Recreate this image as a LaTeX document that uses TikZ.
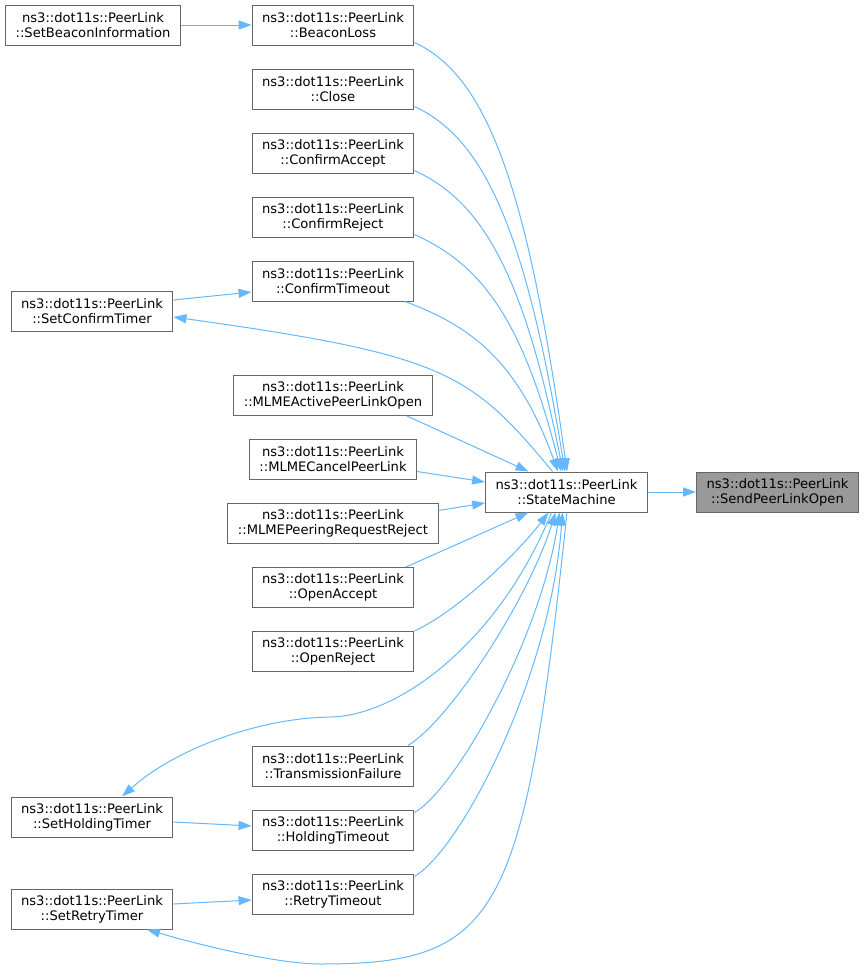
\documentclass[tikz,border=0pt]{standalone}
\usepackage{fontspec}
\setmainfont{DejaVu Sans}
\usetikzlibrary{arrows.meta,positioning}
\definecolor{callblue}{HTML}{63B8FF}
\definecolor{boxgray}{HTML}{666666}
\definecolor{curgray}{HTML}{999999}
\tikzset{
  fn/.style={draw=boxgray,fill=white,line width=1pt,align=center,
    minimum height=40pt,inner xsep=10pt,inner ysep=2pt,
    font=\fontsize{13.1}{15}\selectfont},
  cur/.style={fn,fill=curgray},
  call/.style={draw=callblue,line width=1pt}
}

\begin{document}
\begin{tikzpicture}[->,>={Triangle[length=13pt,width=9pt]},x=1pt,y=1pt,node distance=64pt]
  \useasboundingbox (0,0) rectangle (864,-969);

  \node[fn](sm) at (566.5,-492){ns3::dot11s::PeerLink\\::StateMachine};
  \node[cur](send)[right of=sm,node distance=211pt]{ns3::dot11s::PeerLink\\::SendPeerLinkOpen};

  \node[fn](beacon) at (333,-25){ns3::dot11s::PeerLink\\::BeaconLoss};
  \node[fn](close)[below of=beacon]{ns3::dot11s::PeerLink\\::Close};
  \node[fn](caccept)[below of=close]{ns3::dot11s::PeerLink\\::ConfirmAccept};
  \node[fn](creject)[below of=caccept]{ns3::dot11s::PeerLink\\::ConfirmReject};
  \node[fn](ctimeout)[below of=creject]{ns3::dot11s::PeerLink\\::ConfirmTimeout};
  \node[fn](mlmeactive)[below of=ctimeout,node distance=114.5pt]{ns3::dot11s::PeerLink\\::MLMEActivePeerLinkOpen};
  \node[fn](mlmecancel)[below of=mlmeactive]{ns3::dot11s::PeerLink\\::MLMECancelPeerLink};
  \node[fn](mlmereject)[below of=mlmecancel]{ns3::dot11s::PeerLink\\::MLMEPeeringRequestReject};
  \node[fn](oaccept)[below of=mlmereject]{ns3::dot11s::PeerLink\\::OpenAccept};
  \node[fn](oreject)[below of=oaccept]{ns3::dot11s::PeerLink\\::OpenReject};
  \node[fn](txfail)[below of=oreject,node distance=114.5pt]{ns3::dot11s::PeerLink\\::TransmissionFailure};
  \node[fn](htimeout)[below of=txfail]{ns3::dot11s::PeerLink\\::HoldingTimeout};
  \node[fn](rtimeout)[below of=htimeout]{ns3::dot11s::PeerLink\\::RetryTimeout};

  \node[fn](setbeacon)[left of=beacon,node distance=240pt]{ns3::dot11s::PeerLink\\::SetBeaconInformation};
  \node[fn](setconfirm) at (92,-311){ns3::dot11s::PeerLink\\::SetConfirmTimer};
  \node[fn](setholding) at (92,-817){ns3::dot11s::PeerLink\\::SetHoldingTimer};
  \node[fn](setretry) at (92,-909){ns3::dot11s::PeerLink\\::SetRetryTimer};

  % straight calls
  \path(sm) edge[call] (send);
  \path(setbeacon) edge[call] (beacon);
  \path([yshift=11pt]setconfirm.east) edge[call] ([yshift=-11pt]ctimeout.west);
  \path([yshift=-5pt]setholding.east) edge[call] ([yshift=4pt]htimeout.west);
  \path([yshift=5pt]setretry.east) edge[call] ([yshift=-6pt]rtimeout.west);
  \path([xshift=74pt]mlmeactive.south) edge[call] ([xshift=-38pt]sm.north);
  \path([yshift=-12pt]mlmecancel.east) edge[call] ([yshift=10pt]sm.west);
  \path([yshift=13pt]mlmereject.east) edge[call] ([yshift=-11pt]sm.west);
  \path([xshift=73pt]oaccept.north) edge[call] ([xshift=-38pt]sm.south);

  % curved calls into StateMachine
  \draw[call]([yshift=3pt]beacon.south east) .. controls (488,-76) and (528,-190) .. ([xshift=0.5pt]sm.north);
  \draw[call]([yshift=3pt]close.south east) .. controls (485,-139) and (526,-232) .. ([xshift=-1.5pt]sm.north);
  \draw[call]([yshift=3pt]caccept.south east) .. controls (483,-202) and (524,-275) .. ([xshift=-3.5pt]sm.north);
  \draw[call]([yshift=3pt]creject.south east) .. controls (480,-264) and (522,-317) .. ([xshift=-5.5pt]sm.north);
  \draw[call]([xshift=72pt]ctimeout.south) .. controls (471,-326) and (518,-361) .. ([xshift=-8.5pt]sm.north);
  \draw[call](oreject.north east) .. controls (460,-610) and (520,-550) .. ([xshift=-18pt]sm.south);
  \draw[call]([xshift=75pt]txfail.north) .. controls (450,-720) and (528,-600) .. ([xshift=-11pt]sm.south);
  \draw[call]([yshift=-3pt]htimeout.north east) .. controls (455,-790) and (540,-640) .. ([xshift=-7pt]sm.south);
  \draw[call]([yshift=-3pt]rtimeout.north east) .. controls (460,-850) and (550,-680) .. ([xshift=-4pt]sm.south);

  % calls back out of StateMachine
  \draw[call]([xshift=-14pt]sm.north) .. controls (470,-372) and (445,-355) .. ([yshift=-6pt]setconfirm.east);
  \draw[call]([xshift=-15pt]sm.south) .. controls (500,-640) and (400,-716) .. (330,-717)
    .. controls (259,-718) and (175,-749) .. ([xshift=30pt]setholding.north);
  \draw[call]([xshift=0.5pt]sm.south) .. controls (524,-919) and (499,-964) .. (320,-964)
    .. controls (285,-964) and (217,-950) .. ([xshift=55pt]setretry.south);
\end{tikzpicture}
\end{document}
